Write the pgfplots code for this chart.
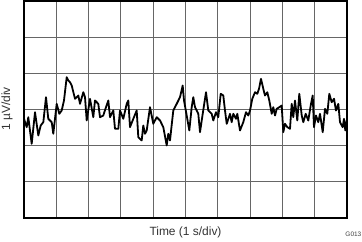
\documentclass[border=0pt]{standalone}
\usepackage{pgfplots}
\pgfplotsset{compat=1.18}
\usepackage{pgfplotstable}
\usepackage{fontspec}
\setmainfont{Liberation Sans}
\pgfplotstableread{
t v
0.000 -0.257
0.084 -0.489
0.133 -0.213
0.238 -0.948
0.341 -0.075
0.443 -0.718
0.517 -0.442
0.598 -0.351
0.681 0.340
0.752 -0.257
0.858 -0.351
0.907 -0.671
1.012 0.157
1.093 -0.119
1.167 -0.028
1.238 0.249
1.322 0.892
1.372 0.801
1.424 0.754
1.477 0.663
1.579 0.296
1.681 0.387
1.734 0.157
1.836 0.478
1.889 0.340
1.941 -0.304
2.043 0.296
2.146 -0.213
2.198 0.249
2.300 0.157
2.353 -0.213
2.455 -0.166
2.539 0.064
2.610 0.249
2.663 -0.213
2.765 -0.028
2.817 -0.533
2.920 -0.533
2.972 -0.028
3.074 -0.257
3.180 0.157
3.229 0.249
3.282 -0.489
3.384 -0.257
3.489 -0.028
3.539 -0.765
3.644 -0.856
3.693 -0.442
3.746 -0.671
3.799 -0.580
3.901 0.064
4.003 -0.395
4.108 -0.213
4.211 -0.304
4.313 -0.489
4.418 -0.994
4.467 -0.671
4.520 -0.856
4.622 -0.028
4.728 0.157
4.830 0.340
4.913 0.663
4.954 0.249
5.037 -0.166
5.118 -0.580
5.192 0.064
5.241 0.340
5.294 0.064
5.396 -0.119
5.449 -0.627
5.533 -0.119
5.635 0.478
5.706 -0.028
5.811 -0.119
5.861 -0.304
5.944 -0.075
6.015 -0.213
6.090 0.434
6.170 0.387
6.223 -0.028
6.276 -0.395
6.378 -0.119
6.430 -0.351
6.480 -0.119
6.563 -0.257
6.604 -0.119
6.687 -0.580
6.789 -0.351
6.873 -0.075
6.944 -0.166
6.997 -0.028
7.068 0.296
7.152 0.478
7.223 0.434
7.276 0.572
7.337 0.848
7.409 0.572
7.461 0.387
7.533 0.478
7.594 0.249
7.669 -0.119
7.718 0.064
7.771 -0.166
7.824 0.019
7.904 0.064
7.978 0.110
8.028 -0.627
8.080 -0.395
8.152 -0.489
8.235 -0.533
8.288 0.157
8.337 -0.213
8.390 0.249
8.461 -0.304
8.523 0.434
8.598 -0.166
8.647 -0.351
8.721 -0.119
8.802 -0.304
8.876 0.110
8.938 0.387
8.978 -0.489
9.040 -0.166
9.111 -0.351
9.164 -0.119
9.248 -0.627
9.319 0.019
9.390 -0.119
9.452 0.434
9.526 0.202
9.598 0.296
9.659 -0.028
9.731 0.157
9.783 -0.351
9.867 -0.489
9.907 -0.257
9.947 -0.580
9.991 -0.304
}\noisedata
\begin{document}
\begin{tikzpicture}
\useasboundingbox (0,0) rectangle (362bp,242bp);
\begin{axis}[
  at={(24bp,24bp)}, anchor=south west,
  scale only axis, width=323bp, height=217bp,
  xmin=0, xmax=10, ymin=-3, ymax=3,
  xtick={0,1,...,10}, ytick={-3,-2,...,3},
  xticklabels={}, yticklabels={},
  major tick length=0pt,
  grid=major,
  grid style={black!60, line width=0.9bp},
  axis line style={black, line width=1.7bp},
]
\addplot[black, line width=1.8bp, line join=round] table[x=t, y=v] {\noisedata};
\end{axis}
\node[anchor=base, font=\fontsize{12}{14}\selectfont, text=black!80] at (185.5bp,7bp) {Time (1 s/div)};
\node[anchor=base, rotate=90, font=\fontsize{12}{14}\selectfont, text=black!80] at (10bp,133bp) {1 µV/div};
\node[anchor=base east, font=\fontsize{6.5}{8}\selectfont, text=black!75, inner sep=0pt] at (361.5bp,6bp) {G013};
\end{tikzpicture}
\end{document}
